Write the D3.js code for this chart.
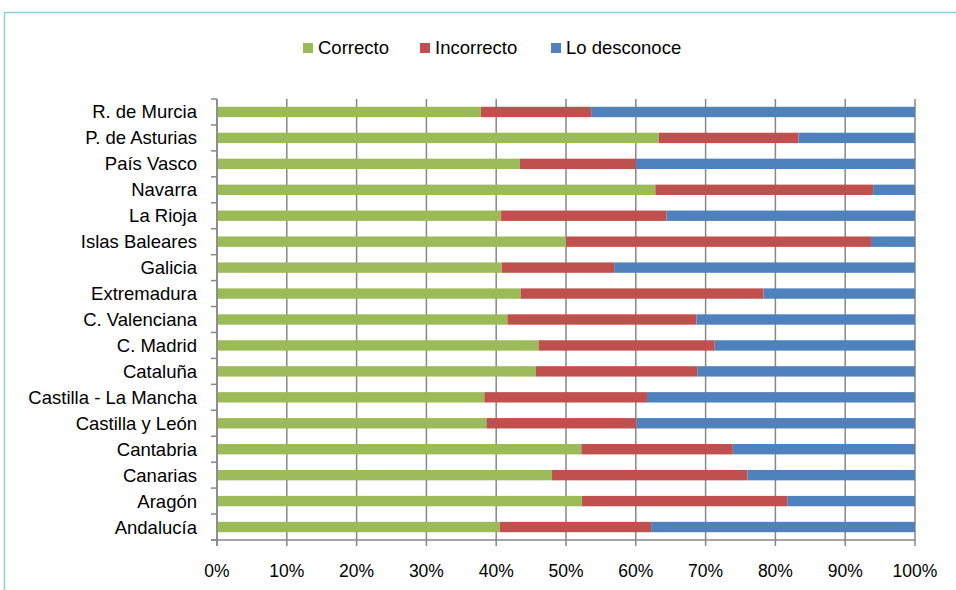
<!DOCTYPE html>
<html><head><meta charset="utf-8">
<script src="https://cdn.jsdelivr.net/npm/d3@7"></script>
<style>body{margin:0;background:#fff;} svg{display:block;font-family:"Liberation Sans",Arial,sans-serif;}</style>
</head><body>
<svg id="c" width="956" height="590"></svg>
<script>
const categories = ["R. de Murcia","P. de Asturias","País Vasco","Navarra","La Rioja","Islas Baleares","Galicia","Extremadura","C. Valenciana","C. Madrid","Cataluña","Castilla - La Mancha","Castilla y León","Cantabria","Canarias","Aragón","Andalucía"];
const correcto   = [37.8,63.3,43.4,62.8,40.7,50.0,40.8,43.5,41.6,46.1,45.7,38.3,38.6,52.2,48.0,52.3,40.5];
const incorrecto = [15.8,20.0,16.6,31.2,23.7,43.7,16.1,34.8,27.1,25.2,23.1,23.3,21.5,21.7,28.0,29.4,21.7];
const desconoce  = [46.4,16.7,40.0,6.0,35.6,6.3,43.1,21.7,31.3,28.7,31.2,38.4,39.9,26.1,24.0,18.3,37.8];
const seriesNames = ["Correcto","Incorrecto","Lo desconoce"];
const colors = ["#9BBB59","#C0504D","#4F81BD"];
const xTicks = [0,10,20,30,40,50,60,70,80,90,100];

const svg = d3.select("#c");
// chart border
svg.append("rect").attr("x",4.5).attr("y",12.5).attr("width",1000).attr("height",700)
  .attr("fill","none").attr("stroke","#93CDDD").attr("stroke-width",1.5);

const m = {left:217, right:915, top:99, bottom:540};
const x = d3.scaleLinear().domain([0,100]).range([m.left,m.right]);
const y = d3.scaleBand().domain(categories).range([m.top,m.bottom]).paddingInner(0.6).paddingOuter(0.3);
const yb = d3.scaleBand().domain(categories).range([m.top,m.bottom]);

const data = categories.map((c,i)=>({cat:c,Correcto:correcto[i],Incorrecto:incorrecto[i],"Lo desconoce":desconoce[i]}));
const stack = d3.stack().keys(seriesNames).offset(d3.stackOffsetExpand)(data);

// gridlines
svg.append("g").selectAll("line").data(xTicks).join("line")
  .attr("x1",d=>x(d)).attr("x2",d=>x(d)).attr("y1",m.top).attr("y2",m.bottom+6)
  .attr("stroke","#878787").attr("stroke-width",1.5);

// bars
stack.forEach((s,k)=>{
  svg.append("g").attr("fill",colors[k]).selectAll("rect").data(s).join("rect")
    .attr("x",d=>x(d[0]*100)).attr("width",d=>x(d[1]*100)-x(d[0]*100))
    .attr("y",d=>y(d.data.cat)).attr("height",y.bandwidth());
});

// y axis line + ticks at band boundaries
svg.append("line").attr("x1",m.left).attr("x2",m.left).attr("y1",m.top).attr("y2",m.bottom+6)
  .attr("stroke","#878787").attr("stroke-width",1.5);
const bounds = categories.map(c=>yb(c)).concat([m.bottom]);
svg.append("g").selectAll("line").data(bounds).join("line")
  .attr("x1",m.left-6).attr("x2",m.left).attr("y1",d=>d).attr("y2",d=>d)
  .attr("stroke","#878787").attr("stroke-width",1.5);
// x axis line
svg.append("line").attr("x1",m.left-6).attr("x2",m.right).attr("y1",m.bottom).attr("y2",m.bottom)
  .attr("stroke","#878787").attr("stroke-width",1.5);

// y labels
svg.append("g").selectAll("text").data(categories).join("text")
  .attr("x",197).attr("y",d=>yb(d)+yb.bandwidth()/2).attr("dy","0.35em")
  .attr("text-anchor","end").attr("font-size",18.5).attr("fill","#000").text(d=>d);
// x labels
svg.append("g").selectAll("text").data(xTicks).join("text")
  .attr("x",d=>x(d)).attr("y",571).attr("dy","0.35em")
  .attr("text-anchor","middle").attr("font-size",17.5).attr("fill","#000").text(d=>d+"%");

// legend
const legX = [303,420,551];
const lg = svg.append("g");
seriesNames.forEach((n,i)=>{
  lg.append("rect").attr("x",legX[i]).attr("y",43).attr("width",10).attr("height",10).attr("fill",colors[i]);
  lg.append("text").attr("x",legX[i]+15).attr("y",48).attr("dy","0.35em").attr("font-size",18.5).text(n);
});
</script>
</body></html>
